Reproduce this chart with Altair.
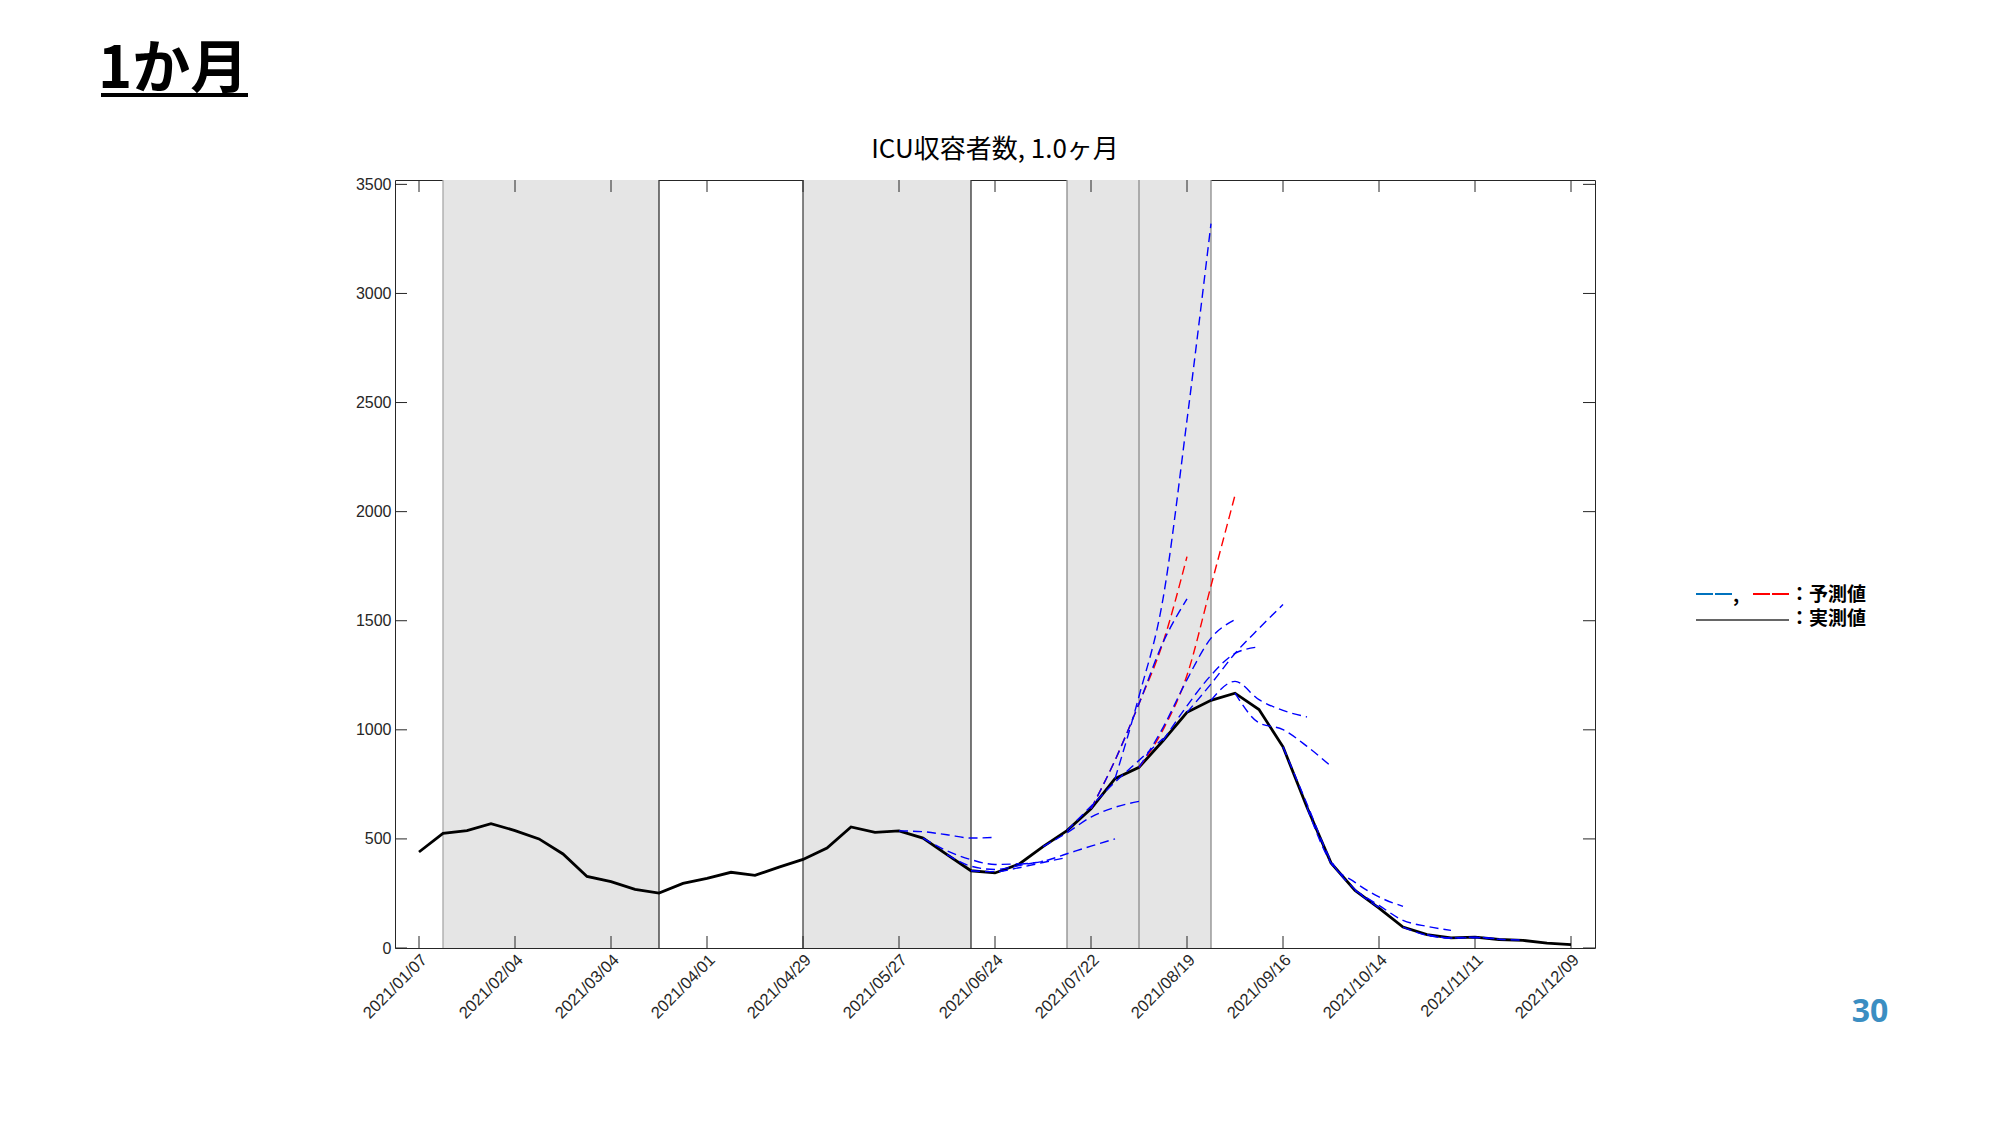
import altair as alt
import pandas as pd

# ---------------- data ----------------
actual_dates = [
    "2021/01/07", "2021/01/14", "2021/01/21", "2021/01/28", "2021/02/04", "2021/02/11",
    "2021/02/18", "2021/02/25", "2021/03/04", "2021/03/11", "2021/03/18", "2021/03/25",
    "2021/04/01", "2021/04/08", "2021/04/15", "2021/04/22", "2021/04/29", "2021/05/06",
    "2021/05/13", "2021/05/20", "2021/05/27", "2021/06/03", "2021/06/10", "2021/06/17",
    "2021/06/24", "2021/07/01", "2021/07/08", "2021/07/15", "2021/07/22", "2021/07/29",
    "2021/08/05", "2021/08/12", "2021/08/19", "2021/08/26", "2021/09/02", "2021/09/09",
    "2021/09/16", "2021/09/23", "2021/09/30", "2021/10/07", "2021/10/14", "2021/10/21",
    "2021/10/28", "2021/11/04", "2021/11/11", "2021/11/18", "2021/11/25", "2021/12/02",
    "2021/12/09",
]
actual_values = [
    440, 525, 538, 570, 538, 500,
    431, 328, 304, 269, 252, 296,
    319, 347, 333, 371, 406, 458,
    555, 530, 537, 504, 428, 354,
    344, 384, 465, 538, 638, 776,
    828, 950, 1080, 1135, 1168, 1093,
    922, 645, 390, 264, 183, 96,
    61, 46, 50, 39, 35, 22,
    15,
]

# forecasts: start date, colour, weekly values from the start date
fc_start = [
    "2021/07/22", "2021/08/05",
    "2021/05/27", "2021/06/03", "2021/06/10", "2021/06/17", "2021/07/01",
    "2021/07/08", "2021/07/15", "2021/07/22", "2021/07/29",
    "2021/08/05", "2021/08/12", "2021/08/19", "2021/08/26",
    "2021/09/02", "2021/09/16", "2021/09/23", "2021/10/07", "2021/10/21",
    "2021/10/28",
]
fc_color = [
    "red", "red",
    "blue", "blue", "blue", "blue", "blue",
    "blue", "blue", "blue", "blue",
    "blue", "blue", "blue", "blue",
    "blue", "blue", "blue", "blue", "blue",
    "blue",
]
fc_values = [
    [638, 860, 1120, 1400, 1794],
    [828, 1000, 1250, 1660, 2075],
    [537, 533, 519, 504, 507],
    [504, 445, 405, 383, 386],
    [428, 375, 360, 378, 398],
    [354, 350, 368, 392, 415],
    [384, 397, 432, 467, 500],
    [465, 528, 600, 645, 672],
    [538, 650, 760, 860, 960],
    [638, 860, 1120, 1400, 1600],
    [776, 1154, 1600, 2420, 3320],
    [828, 1010, 1230, 1420, 1505],
    [950, 1110, 1250, 1350, 1380],
    [1080, 1210, 1350, 1465, 1574],
    [1135, 1222, 1138, 1089, 1059],
    [1168, 1032, 1001, 924, 833],
    [922, 660, 400, 268, 185],
    [645, 390, 301, 234, 191],
    [264, 195, 127, 99, 81],
    [96, 58, 46, 47, 42],
    [61, 46, 50, 40, 36],
]
fc_palette = {"blue": "#0000FF", "red": "#FF0000"}

shade_start = ["2021/01/14", "2021/04/29", "2021/07/15", "2021/08/05"]
shade_end = ["2021/03/18", "2021/06/17", "2021/08/05", "2021/08/26"]
boundary_dates = ["2021/01/14", "2021/03/18", "2021/04/29", "2021/06/17",
                  "2021/07/15", "2021/08/05", "2021/08/26"]
boundary_colors = ["#a8a8a8", "#333333", "#444444", "#333333",
                   "#8c8c8c", "#8c8c8c", "#8c8c8c"]

x_tick_labels = ["2021/01/07", "2021/02/04", "2021/03/04", "2021/04/01", "2021/04/29",
                 "2021/05/27", "2021/06/24", "2021/07/22", "2021/08/19", "2021/09/16",
                 "2021/10/14", "2021/11/11", "2021/12/09"]
y_tick_values = [0, 500, 1000, 1500, 2000, 2500, 3000, 3500]

heading_text = "1か月"
title_text = "ICU収容者数, 1.0ヶ月"
legend_pred = "：予測値"
legend_actual = "：実測値"
page_number = "30"

# ---------------- frames ----------------
def to_dt(s):
    return pd.to_datetime(s, format="%Y/%m/%d")

actual_df = pd.DataFrame({"date": to_dt(actual_dates), "value": actual_values})

rows = []
for i, (s, c, vals) in enumerate(zip(fc_start, fc_color, fc_values)):
    sd = to_dt(s)
    for j, v in enumerate(vals):
        rows.append({"id": i, "date": sd + pd.Timedelta(days=7 * j), "value": v,
                     "color": fc_palette[c]})
fc_df = pd.DataFrame(rows)

shade_df = pd.DataFrame({"date": to_dt(shade_start), "end": to_dt(shade_end)})
bound_df = pd.DataFrame({"date": to_dt(boundary_dates), "color": boundary_colors})
xtick_df = pd.DataFrame({"date": to_dt(x_tick_labels)})
ytick_df = pd.DataFrame({"value": y_tick_values})

W, H = 1200, 768
FONT = "Liberation Sans"
JP = "Noto Sans CJK JP"

x_scale = alt.Scale(domain=[alt.DateTime(year=2020, month=12, date=31),
                            alt.DateTime(year=2021, month=12, date=16)], nice=False)
y_scale = alt.Scale(domain=[0, 3520], nice=False, zero=False)

x_axis = alt.Axis(
    values=[alt.DateTime(year=d.year, month=d.month, date=d.day) for d in to_dt(x_tick_labels)],
    format="%Y/%m/%d", labelAngle=315, labelAlign="right", labelBaseline="middle",
    ticks=False, domain=False, grid=False, labelPadding=9, labelOffset=5,
    labelFont=FONT, labelFontSize=16.5, labelColor="#262626", title=None,
    labelOverlap=False, labelFlush=False, labelBound=False,
)
y_axis = alt.Axis(
    values=y_tick_values, format="d", ticks=False, domain=False, grid=False, labelPadding=4,
    labelFont=FONT, labelFontSize=16, labelColor="#262626", title=None,
    labelOverlap=False, labelFlush=False,
)

def X(field):
    return alt.X(field, scale=x_scale, axis=x_axis)

def Y(field):
    return alt.Y(field, scale=y_scale, axis=y_axis)

shades = alt.Chart(shade_df).mark_rect(color="#e5e5e5").encode(
    x=X("date:T"), x2="end:T",
    y=alt.value(0), y2=alt.value(H),
)
bounds = alt.Chart(bound_df).mark_rule(strokeWidth=1.3).encode(
    x=X("date:T"),
    y=alt.value(0), y2=alt.value(H),
    color=alt.Color("color:N", scale=None),
)
xt_bottom = alt.Chart(xtick_df).mark_rule(color="#262626", strokeWidth=1).encode(
    x=X("date:T"), y=alt.value(H - 12), y2=alt.value(H))
xt_top = alt.Chart(xtick_df).mark_rule(color="#262626", strokeWidth=1).encode(
    x=X("date:T"), y=alt.value(0), y2=alt.value(12))
yt_left = alt.Chart(ytick_df).mark_rule(color="#262626", strokeWidth=1).encode(
    y=Y("value:Q"), x=alt.value(0), x2=alt.value(12))
yt_right = alt.Chart(ytick_df).mark_rule(color="#262626", strokeWidth=1).encode(
    y=Y("value:Q"), x=alt.value(W - 12), x2=alt.value(W))

actual_line = alt.Chart(actual_df).mark_line(color="#000000", strokeWidth=2.8).encode(
    x=X("date:T"), y=Y("value:Q"),
)
fc_lines = alt.Chart(fc_df).mark_line(strokeWidth=1.4, strokeDash=[9, 5],
                                      interpolate="monotone").encode(
    x=X("date:T"), y=Y("value:Q"),
    color=alt.Color("color:N", scale=None),
    detail="id:N",
    order=alt.Order("date:T"),
)

one = pd.DataFrame({"t": [0]})

def label(text, x, y, size, font=JP, weight="normal", color="#000000",
          align="left", baseline="middle"):
    return alt.Chart(pd.DataFrame({"t": [text]})).mark_text(
        font=font, fontSize=size, fontWeight=weight, color=color,
        align=align, baseline=baseline,
    ).encode(text="t:N", x=alt.value(x), y=alt.value(y))

heading = label(heading_text, -297, -92, 58, weight="bold", baseline="alphabetic")
underline = alt.Chart(one).mark_rule(color="#000000", strokeWidth=4).encode(
    x=alt.value(-294), x2=alt.value(-147), y=alt.value(-85))
title = label(title_text, W / 2, -30, 26, align="center")

leg_blue = alt.Chart(one).mark_rule(color="#0072BD", strokeWidth=2, strokeDash=[17, 2]).encode(
    x=alt.value(1301), x2=alt.value(1337), y=alt.value(414))
leg_comma = label(",", 1338, 422, 19, weight="bold", baseline="alphabetic")
leg_red = alt.Chart(one).mark_rule(color="#FF0000", strokeWidth=2, strokeDash=[17, 2]).encode(
    x=alt.value(1358), x2=alt.value(1394), y=alt.value(414))
leg_black = alt.Chart(one).mark_rule(color="#333333", strokeWidth=1.5).encode(
    x=alt.value(1301), x2=alt.value(1394), y=alt.value(440))
leg_t1 = label(legend_pred, 1395, 415, 19, weight="bold")
leg_t2 = label(legend_actual, 1395, 439, 19, weight="bold")

page = label(page_number, 1475, 842, 32, font="Noto Sans", weight="bold",
             color="#3b8ec2", align="center", baseline="alphabetic")

chart = alt.layer(
    shades, bounds, xt_bottom, xt_top, yt_left, yt_right,
    actual_line, fc_lines,
    heading, underline, title, leg_blue, leg_comma, leg_red, leg_black, leg_t1, leg_t2, page,
).properties(
    width=W, height=H,
    autosize=alt.AutoSizeParams(type="none"),
    padding={"left": 387, "top": 172, "right": 397, "bottom": 169},
).configure_view(stroke="#262626", strokeWidth=1)

chart.save("out.html", embed_options={"renderer": "svg", "actions": False})
